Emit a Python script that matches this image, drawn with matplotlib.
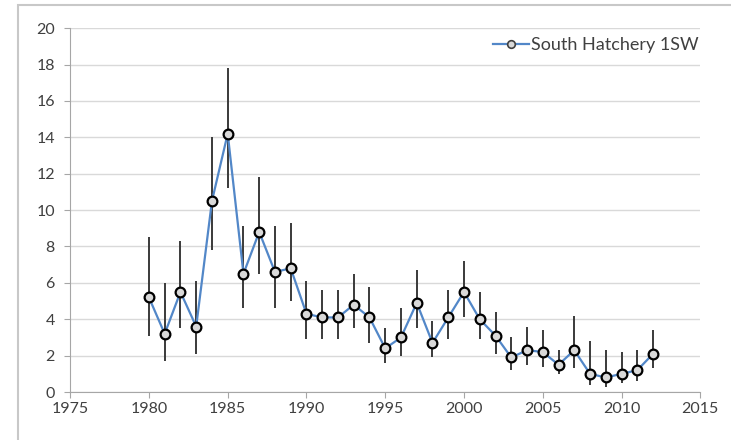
import numpy as np
import matplotlib.pyplot as plt
from matplotlib.patches import Rectangle
from matplotlib.lines import Line2D

# Data
years = list(range(1980, 2013))
values = [5.2, 3.2, 5.5, 3.6, 10.5, 14.2, 6.5, 8.8, 6.6, 6.8,
          4.3, 4.1, 4.1, 4.8, 4.1, 2.4, 3.0, 4.9, 2.7, 4.1,
          5.5, 4.0, 3.1, 1.9, 2.3, 2.2, 1.5, 2.3, 1.0, 0.8,
          1.0, 1.2, 2.1]
lower = [3.1, 1.7, 3.5, 2.1, 7.8, 11.2, 4.6, 6.5, 4.6, 5.0,
         2.9, 2.9, 2.9, 3.5, 2.7, 1.6, 2.0, 3.5, 1.9, 2.9,
         4.1, 2.9, 2.1, 1.2, 1.5, 1.4, 1.0, 1.3, 0.4, 0.3,
         0.5, 0.6, 1.3]
upper = [8.5, 6.0, 8.3, 6.1, 14.0, 17.8, 9.1, 11.8, 9.1, 9.3,
         6.1, 5.6, 5.6, 6.5, 5.8, 3.5, 4.6, 6.7, 3.9, 5.6,
         7.2, 5.5, 4.4, 3.0, 3.6, 3.4, 2.3, 4.2, 2.8, 2.3,
         2.2, 2.3, 3.4]
xticks = [1975, 1980, 1985, 1990, 1995, 2000, 2005, 2010, 2015]
yticks = list(range(0, 21, 2))

plt.rcParams['font.family'] = ['Lato', 'DejaVu Sans']

fig = plt.figure(figsize=(7.31, 4.4), dpi=100)
ax = fig.add_axes([0.096, 0.109, 0.862, 0.827])

# light border around the whole chart (right/bottom edges fall outside the image)
fig.patches.append(Rectangle((0.0246, -0.05), 1.1, 1.039, transform=fig.transFigure,
                             fill=False, edgecolor='#c8c8c8', linewidth=1.5))

ax.vlines(years, lower, upper, color='#3a3a3a', linewidth=1.4, zorder=2)
ax.plot(years, values, color='#5287c8', linewidth=1.6, marker='o', markersize=7,
        markerfacecolor='#d9d9d9', markeredgecolor='black', markeredgewidth=1.6,
        zorder=3)

ax.set_xlim(1975, 2015)
ax.set_ylim(0, 20)
ax.set_xticks(xticks)
ax.set_yticks(yticks)
ax.grid(axis='y', color='#d9d9d9', linewidth=1)
ax.set_axisbelow(True)

for s in ['top', 'right']:
    ax.spines[s].set_visible(False)
ax.spines['left'].set_color('#a6a6a6')
ax.spines['bottom'].set_color('#a6a6a6')
ax.tick_params(axis='both', colors='#a6a6a6', labelcolor='#404040', labelsize=11.5,
               length=4, direction='out')
ax.tick_params(axis='y', pad=7)

handle = Line2D([], [], color='#5287c8', linewidth=1.6, marker='o', markersize=5.5,
                markerfacecolor='#d9d9d9', markeredgecolor='#404040', markeredgewidth=1.2)
ax.legend([handle], ['South Hatchery 1SW'], loc='center right', frameon=False,
          fontsize=13, handlelength=2.0, handletextpad=0.1, borderaxespad=0,
          borderpad=0.1, bbox_to_anchor=(1.0, 0.953), labelcolor='#404040')

fig.savefig('out.png', dpi=100)
